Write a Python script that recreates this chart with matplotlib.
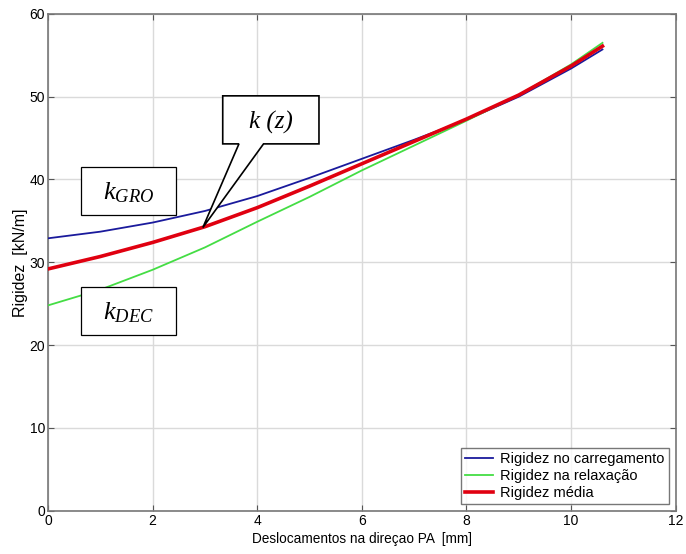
import matplotlib.pyplot as plt
from matplotlib.patches import Polygon, Rectangle

# displacement [mm] and stiffness curves [kN/m]
desloc = [0, 1, 2, 3, 4, 5, 6, 7, 8, 9, 10, 10.6]
k_carreg = [32.9, 33.7, 34.8, 36.2, 38.0, 40.2, 42.5, 44.8, 47.2, 50.0, 53.4, 55.7]
k_relax = [24.8, 26.7, 29.1, 31.8, 34.9, 37.9, 41.1, 44.1, 47.1, 50.2, 53.9, 56.5]
k_media = [29.2, 30.7, 32.4, 34.3, 36.6, 39.2, 41.9, 44.6, 47.3, 50.2, 53.7, 56.1]

labels = ["Rigidez no carregamento", "Rigidez na relaxação", "Rigidez média"]
xticks = [0, 2, 4, 6, 8, 10, 12]
yticks = [0, 10, 20, 30, 40, 50, 60]

plt.rcParams["font.family"] = ["Liberation Sans", "DejaVu Sans"]
plt.rcParams["mathtext.fontset"] = "custom"
plt.rcParams["mathtext.it"] = "Liberation Serif:italic"
plt.rcParams["mathtext.rm"] = "Liberation Serif"

fig = plt.figure(figsize=(6.86, 5.54), dpi=100)
ax = fig.add_axes([0.070, 0.078, 0.915, 0.897])

ax.plot(desloc, k_carreg, color="#1a1a9c", lw=1.3, label=labels[0], zorder=3)
ax.plot(desloc, k_relax, color="#44dd44", lw=1.3, label=labels[1], zorder=3)
ax.plot(desloc, k_media, color="#e00010", lw=2.6, label=labels[2], zorder=4)

ax.set_xlim(0, 12)
ax.set_ylim(0, 60)
ax.set_xticks(xticks)
ax.set_yticks(yticks)
ax.grid(True, color="#dadada", lw=1.0)
ax.tick_params(direction="in", top=True, right=True, labelsize=10, length=4,
               color="#555555", pad=2)
for sp in ax.spines.values():
    sp.set_color("#777777")
    sp.set_linewidth(1.2)

ax.set_xlabel("Deslocamentos na direçao PA  [mm]", fontsize=9.8, labelpad=3)
ax.set_ylabel("Rigidez  [kN/m]", fontsize=11.5, labelpad=1)

leg = ax.legend(loc="lower right", fontsize=10.5, frameon=True, fancybox=False,
                handlelength=1.9, handletextpad=0.5, borderpad=0.3,
                labelspacing=0.2, borderaxespad=0.45)
leg.get_frame().set_edgecolor("#555555")
leg.get_frame().set_linewidth(1.0)

# label boxes
for (x0, y0), txt in [((0.63, 35.7), r"$k_{GRO}$"), ((0.63, 21.25), r"$k_{DEC}$")]:
    ax.add_patch(Rectangle((x0, y0), 1.82, 5.8, fc="white", ec="black",
                           lw=0.9, zorder=6))
    ax.text(x0 + 0.91, y0 + 2.7, txt, fontsize=19, ha="center", va="center",
            zorder=7)

# callout k (z)
bubble = [(3.34, 50.1), (5.18, 50.1), (5.18, 44.3), (4.12, 44.3),
          (2.96, 34.2), (3.65, 44.3), (3.34, 44.3)]
ax.add_patch(Polygon(bubble, closed=True, fc="white", ec="black", lw=1.2,
                     zorder=6))
ax.text(4.26, 46.9, "k (z)", fontsize=18, family="Liberation Serif",
        style="italic", ha="center", va="center", zorder=7)

fig.savefig("out.png", dpi=100)
